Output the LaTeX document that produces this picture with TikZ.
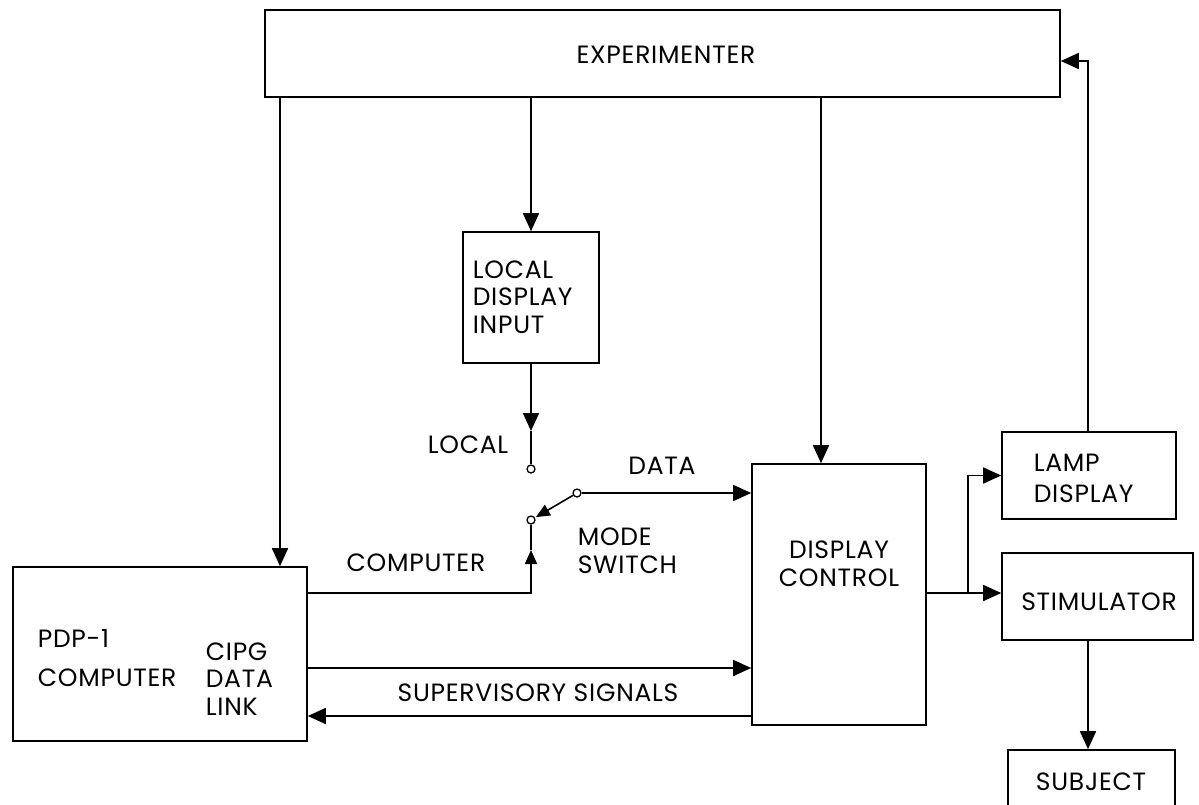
\documentclass[tikz,border=0pt]{standalone}
\usepackage{fontspec}
\setmainfont{Poppins}[LetterSpace=3]
\usetikzlibrary{arrows.meta,calc}
\begin{document}
\begin{tikzpicture}[x=1pt,y=-1pt,line width=1.6pt,
  box/.style={draw,rectangle,inner sep=0pt},
  lbl/.style={inner sep=0pt,font=\fontsize{25}{27.5}\selectfont,align=left},
  arr/.style={-{Triangle[length=18pt,width=16pt]}},
  arrs/.style={-{Triangle[length=14pt,width=12pt]}},
  term/.style={draw,circle,fill=white,inner sep=0pt,minimum size=8pt,line width=1.3pt}]
\clip (0,0) rectangle (1199,804);
\fill[white] (0,0) rectangle (1199,804);
% boxes
\node[box,minimum width=795pt,minimum height=87pt] (exp) at (662.5,53.5) {};
\node[box,minimum width=136pt,minimum height=131pt] (local) at (531,297.5) {};
\node[box,minimum width=294pt,minimum height=174pt] (pdp) at (160,654) {};
\node[box,minimum width=174pt,minimum height=261pt] (dc) at (839,594.5) {};
\node[box,minimum width=174pt,minimum height=87pt] (lamp) at (1089,475.5) {};
\node[box,minimum width=191pt,minimum height=87pt] (stim) at (1097.5,596.5) {};
\node[box,minimum width=167pt,minimum height=70pt] (subj) at (1091.5,785) {};
% texts
\node[lbl] (texp) at (666,55) {EXPERIMENTER};
\node[lbl,anchor=west] (tlocal) at (472,297) {LOCAL\\DISPLAY\\INPUT};
\node[lbl,anchor=east] (tloc) at (509,445) {LOCAL};
\node[lbl] (tdata) at (662,466) {DATA};
\node[lbl,anchor=west] (tmode) at (577,551) {MODE\\SWITCH};
\node[lbl,anchor=east] (tcomp) at (486,563) {COMPUTER};
\node[lbl,align=center] (tdc) at (839,564) {DISPLAY\\CONTROL};
\node[lbl,anchor=west] (tpdp) at (37,638) {PDP-1};
\node[lbl,anchor=west] (tpdpc) at (37,678) {COMPUTER};
\node[lbl,anchor=west] (tcipg) at (205,679) {CIPG\\DATA\\LINK};
\node[lbl] (tsup) at (538,693) {SUPERVISORY SIGNALS};
\node[lbl,anchor=west,font=\fontsize{25}{31}\selectfont] (tlamp) at (1033,478) {LAMP\\DISPLAY};
\node[lbl] (tstim) at (1099,602) {STIMULATOR};
\node[lbl] (tsubj) at (1091,782) {SUBJECT};
% switch terminals
\node[term] (tL) at (531,469) {};
\node[term] (tC) at (531,520) {};
\node[term] (tM) at (577,493) {};
% helper coordinates
\coordinate (c1) at (280,0);
\coordinate (c3) at (821,0);
\coordinate (midL) at (531,431);
\coordinate (midC) at (531,550);
\coordinate (k1) at (0,593);
\coordinate (s1) at (0,668);
\coordinate (s2) at (0,716);
\coordinate (o1) at (0,593);
\coordinate (b1) at (968,593);
\coordinate (f1) at (0,61);
\coordinate (sx) at (1088,0);
% connectors
\draw[arr] (exp.south -| c1) -- (pdp.north -| c1);
\draw[arr] (exp.south -| local) -- (local.north);
\draw[arr] (exp.south -| c3) -- (dc.north -| c3);
\draw[arr] (local.south) -- (midL);
\draw (midL) -- (tL);
\draw[arrs] (pdp.east |- k1) -| (midC);
\draw (midC) -- (tC);
\draw[arrs,shorten >=1pt] (tM) -- (tC);
\draw[arr] (tM) -- (dc.west |- tM);
\draw[arr] (pdp.east |- s1) -- (dc.west |- s1);
\draw[arr] (dc.west |- s2) -- (pdp.east |- s2);
\draw[arr] (dc.east |- o1) -- (stim.west |- o1);
\draw[arr] (b1) |- (lamp.west);
\draw[arr] (lamp.north -| sx) |- (exp.east |- f1);
\draw[arr] (stim.south -| sx) -- (subj.north -| sx);
\end{tikzpicture}
\end{document}
